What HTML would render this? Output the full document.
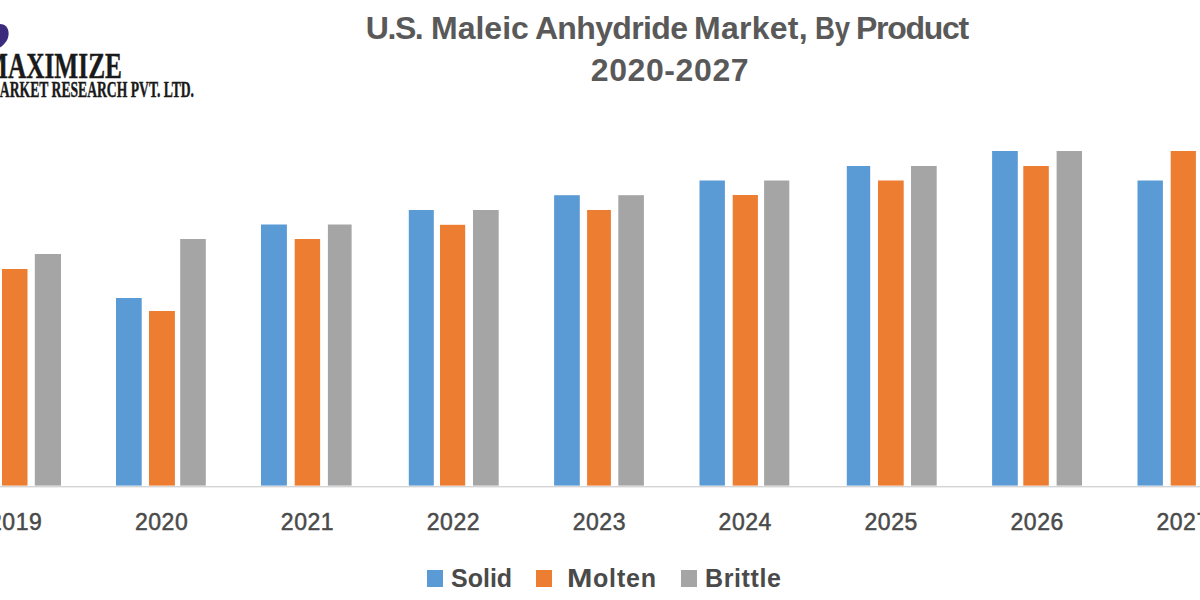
<!DOCTYPE html>
<html><head><meta charset="utf-8">
<style>
html,body{margin:0;padding:0;background:#fff;}
body{width:1200px;height:600px;position:relative;overflow:hidden;font-family:"Liberation Sans",sans-serif;}
svg{position:absolute;left:0;top:0;}
.tw{position:absolute;top:10px;font-size:32px;line-height:36px;color:#595959;font-weight:bold;white-space:nowrap;}
.t{position:absolute;left:0;width:1338px;text-align:center;color:#595959;font-weight:bold;white-space:nowrap;}
.yl{position:absolute;top:507px;width:120px;text-align:center;color:#4a4a4a;font-size:23px;line-height:30px;-webkit-text-stroke:0.5px #4a4a4a;letter-spacing:0.55px;padding-left:0.55px;box-sizing:border-box;}
.lg{position:absolute;top:563px;color:#4a4a4a;font-weight:bold;font-size:25px;line-height:30px;white-space:nowrap;}
.sw{position:absolute;width:16px;height:16.5px;top:570px;}
.logo1{position:absolute;font-family:"Liberation Serif",serif;font-weight:bold;color:#1a1a1a;white-space:nowrap;transform-origin:0 0;}
</style></head><body>
<svg width="1200" height="600" viewBox="0 0 1200 600">
<rect x="0" y="486" width="1200" height="1.4" fill="#d4d4d4"/>
<rect x="2.00" y="269.00" width="25.50" height="216.60" fill="#ed7d31"/><rect x="34.80" y="254.00" width="26.20" height="231.60" fill="#a5a5a5"/><rect x="116.00" y="298.00" width="25.70" height="187.60" fill="#5b9bd5"/><rect x="149.00" y="311.00" width="25.90" height="174.60" fill="#ed7d31"/><rect x="180.20" y="239.00" width="25.60" height="246.60" fill="#a5a5a5"/><rect x="261.00" y="224.50" width="25.90" height="261.10" fill="#5b9bd5"/><rect x="294.70" y="239.00" width="25.40" height="246.60" fill="#ed7d31"/><rect x="327.90" y="224.50" width="23.70" height="261.10" fill="#a5a5a5"/><rect x="408.80" y="210.00" width="25.00" height="275.60" fill="#5b9bd5"/><rect x="440.00" y="224.80" width="25.20" height="260.80" fill="#ed7d31"/><rect x="473.00" y="210.00" width="25.70" height="275.60" fill="#a5a5a5"/><rect x="554.10" y="195.20" width="25.70" height="290.40" fill="#5b9bd5"/><rect x="587.10" y="210.00" width="23.80" height="275.60" fill="#ed7d31"/><rect x="618.30" y="195.20" width="25.60" height="290.40" fill="#a5a5a5"/><rect x="699.50" y="180.50" width="25.40" height="305.10" fill="#5b9bd5"/><rect x="732.70" y="195.00" width="25.20" height="290.60" fill="#ed7d31"/><rect x="764.10" y="180.50" width="25.20" height="305.10" fill="#a5a5a5"/><rect x="846.80" y="166.00" width="23.40" height="319.60" fill="#5b9bd5"/><rect x="878.00" y="180.50" width="25.70" height="305.10" fill="#ed7d31"/><rect x="911.00" y="166.00" width="25.70" height="319.60" fill="#a5a5a5"/><rect x="992.10" y="151.00" width="25.70" height="334.60" fill="#5b9bd5"/><rect x="1023.30" y="166.00" width="25.50" height="319.60" fill="#ed7d31"/><rect x="1056.60" y="151.00" width="25.40" height="334.60" fill="#a5a5a5"/><rect x="1137.50" y="180.50" width="25.40" height="305.10" fill="#5b9bd5"/><rect x="1170.70" y="151.00" width="25.20" height="334.60" fill="#ed7d31"/>
<path d="M0,24 C4.5,24 8.6,27 8.6,33.5 C8.6,39.5 5,44 0,47.5 Z" fill="#3a2b7d"/>
</svg>
<span class="tw" id="w0" style="left:365.8px;letter-spacing:-1.43px">U.S.</span><span class="tw" id="w1" style="left:431px;letter-spacing:0px">Maleic</span><span class="tw" id="w2" style="left:534.9px;letter-spacing:-0.65px">Anhydride</span><span class="tw" id="w3" style="left:694px;letter-spacing:0.25px">Market,</span><span class="tw" id="w4" style="left:815px;letter-spacing:0px;transform:scaleX(0.86);transform-origin:0 0">By</span><span class="tw" id="w5" style="left:856px;letter-spacing:-1.28px">Product</span>
<div class="t" id="t2" style="top:52px;padding-left:1px;font-size:32px;line-height:36px;letter-spacing:0.6px;">2020-2027</div>
<div class="yl" style="left:-44.63px">2019</div><div class="yl" style="left:101.30px">2020</div><div class="yl" style="left:247.23px">2021</div><div class="yl" style="left:393.16px">2022</div><div class="yl" style="left:539.09px">2023</div><div class="yl" style="left:685.02px">2024</div><div class="yl" style="left:830.95px">2025</div><div class="yl" style="left:976.88px">2026</div><div class="yl" style="left:1122.81px">2027</div>
<div class="sw" style="left:427px;background:#5b9bd5"></div>
<div class="lg" id="l1" style="left:451px">Solid</div>
<div class="sw" style="left:536px;background:#ed7d31"></div>
<div class="lg" id="l2" style="left:566.5px;letter-spacing:0.85px"><span style="display:inline-block;transform:scaleX(1.22);transform-origin:0 0;width:26.5px;letter-spacing:0">M</span>olten</div>
<div class="sw" style="left:681px;background:#a5a5a5"></div>
<div class="lg" id="l3" style="left:705px;letter-spacing:0.6px">Brittle</div>
<div class="logo1" id="lg1" style="left:-16.4px;top:48.5px;font-size:35.2px;line-height:35px;transform:scaleX(0.72);-webkit-text-stroke:0.4px #1a1a1a;">MAXIMIZE</div>
<div class="logo1" id="lg2" style="left:-12.9px;top:77.6px;font-size:23px;line-height:23px;transform:scaleX(0.593);-webkit-text-stroke:0.4px #1a1a1a;">MARKET RESEARCH PVT. LTD.</div>
</body></html>
